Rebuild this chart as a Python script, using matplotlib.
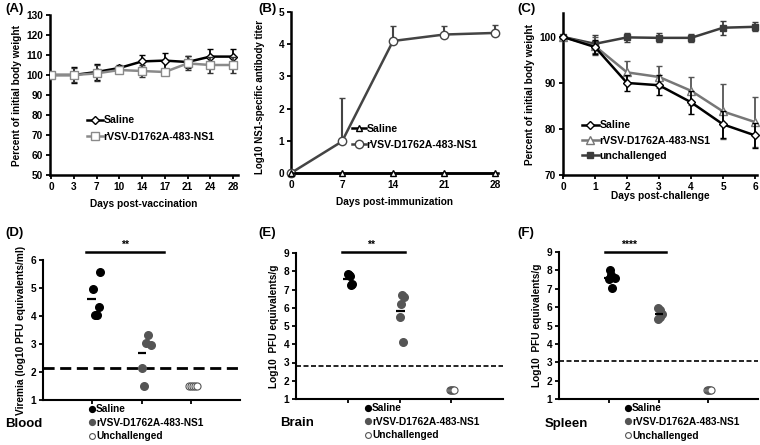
import matplotlib
matplotlib.use('Agg')
import matplotlib.pyplot as plt
from matplotlib.lines import Line2D

plt.rcParams['font.family'] = ['Liberation Sans', 'DejaVu Sans']
plt.rcParams['font.weight'] = 'bold'
plt.rcParams['axes.labelweight'] = 'bold'

W, H = 760, 445
fig = plt.figure(figsize=(7.6, 4.45), dpi=100)

def ax_px(l, r, t, b):
    return fig.add_axes([l / W, 1 - b / H, (r - l) / W, (b - t) / H])

# ---------------- data ----------------
# Panel A
a_days = ['0', '3', '7', '10', '14', '17', '21', '24', '28']
a_saline = [100, 100, 101.5, 103.5, 106.8, 107.2, 106.5, 109.2, 109.2]
a_saline_err = [0, 4, 4, 1.5, 3, 4, 3, 4, 4]
a_rvsv = [100, 100, 100.8, 102.5, 102, 101.5, 105.8, 105, 105]
a_rvsv_err = [0, 3.5, 4, 1.5, 3, 1.5, 3.5, 4, 4]

# Panel B
b_days = [0, 7, 14, 21, 28]
b_saline = [0, 0, 0, 0, 0]
b_rvsv = [0, 0.98, 4.1, 4.3, 4.35]
b_rvsv_err = [0, 1.35, 0.48, 0.25, 0.25]

# Panel C
c_days = [0, 1, 2, 3, 4, 5, 6]
c_saline = [100, 97.8, 90, 89.5, 85.8, 81, 78.6]
c_saline_err = [0, 1.5, 1.7, 2.2, 2.5, 3.0, 2.7]
c_rvsv = [100, 98, 92.3, 91.3, 88.3, 83.8, 81.5]
c_rvsv_err = [0, 2.0, 2.4, 2.3, 3.0, 6.0, 5.5]
c_unch = [100, 98.5, 99.9, 99.8, 99.8, 102, 102.2]
c_unch_err = [0, 2.0, 1.0, 1.0, 0.8, 1.5, 1.0]

# Panel D (blood)
d_sal_x = [1.16, 1.01, 1.13, 1.06, 1.09]
d_sal_y = [5.58, 4.97, 4.32, 4.05, 4.03]
d_rv_x = [2.14, 2.09, 2.19, 2.01, 2.05]
d_rv_y = [3.33, 3.03, 2.98, 2.15, 1.5]
d_un_x = [2.97, 3.01, 3.05, 3.09, 3.13]
d_un_y = [1.5, 1.5, 1.5, 1.5, 1.5]
d_means = [4.6, 2.68]
d_limit = 2.15

# Panel E (brain)
e_sal_x = [1.01, 1.03, 1.05, 1.08, 1.06]
e_sal_y = [7.85, 7.8, 7.75, 7.3, 7.25]
e_rv_x = [2.04, 2.09, 2.02, 2.01, 2.06]
e_rv_y = [6.7, 6.6, 6.2, 5.5, 4.15]
e_un_x = [2.97, 2.99, 3.01, 3.03, 3.05]
e_un_y = [1.5, 1.5, 1.5, 1.5, 1.5]
e_means = [7.6, 5.82]
e_limit = 2.8

# Panel F (spleen)
f_sal_x = [1.02, 1.05, 1.13, 1.0, 1.07]
f_sal_y = [8.0, 7.75, 7.6, 7.55, 7.05]
f_rv_x = [1.99, 2.03, 2.08, 2.03, 1.99]
f_rv_y = [5.95, 5.85, 5.6, 5.45, 5.35]
f_un_x = [2.97, 2.99, 3.01, 3.03, 3.05]
f_un_y = [1.5, 1.5, 1.5, 1.5, 1.5]
f_means = [7.6, 5.62]
f_limit = 3.05

legend_labels = ['Saline', 'rVSV-D1762A-483-NS1', 'Unchallenged']

FS = 7.3
LFS = 7.6

def style(ax, lw=1.8):
    for s in ['top', 'right']:
        ax.spines[s].set_visible(False)
    for s in ['left', 'bottom']:
        ax.spines[s].set_linewidth(lw)
    ax.tick_params(direction='out', length=3, width=1.3, labelsize=FS, pad=2)
    for lab in ax.get_xticklabels() + ax.get_yticklabels():
        lab.set_fontweight('bold')

def lh(color, marker, ms, mfc):
    return Line2D([], [], color=color, lw=1.8, marker=marker, ms=ms, mfc=mfc,
                  mec=color, mew=1)

# ---------------- Panel A ----------------
axA = ax_px(50, 238, 15, 175)
xa = list(range(len(a_days)))
axA.errorbar(xa, a_saline, yerr=a_saline_err, color='black', lw=1.8, marker='D',
             ms=4, mfc='white', mec='black', mew=1, capsize=2, elinewidth=1.3,
             zorder=3)
axA.errorbar(xa, a_rvsv, yerr=a_rvsv_err, color='#8a8a8a', lw=1.8, marker='s',
             ms=6, mfc='white', mec='#8a8a8a', mew=1, ecolor='#333333', capsize=2,
             elinewidth=1.3, zorder=4)
axA.set_xlim(-0.05, 8.22)
axA.set_ylim(50, 130)
axA.set_yticks(range(50, 131, 10))
axA.set_xticks(xa)
axA.set_xticklabels(a_days)
axA.set_xlabel('Days post-vaccination', fontsize=FS, labelpad=5)
axA.set_ylabel('Percent of initial body weight', fontsize=FS, labelpad=3)
style(axA)
axA.legend([lh('black', 'D', 4, 'white'), lh('#8a8a8a', 's', 6, 'white')],
           ['Saline', 'rVSV-D1762A-483-NS1'],
           loc='upper left', bbox_to_anchor=(0.17, 0.405), frameon=False,
           handlelength=1.5, handletextpad=0.05, labelspacing=0.6,
           borderpad=0, prop={'weight': 'bold', 'size': LFS})
fig.text(5 / W, 1 - 9 / H, '(A)', fontsize=9.5, fontweight='bold', va='center')

# ---------------- Panel B ----------------
axB = ax_px(291, 498, 12, 173)
axB.plot(b_days, b_saline, color='black', lw=1.8, marker='^', ms=5,
         mfc='white', mec='black', mew=1, zorder=4, clip_on=False)
axB.errorbar(b_days, b_rvsv, yerr=[[0] * len(b_days), b_rvsv_err], color='#444444',
             lw=1.8, marker='o', ms=6, mfc='white', mec='#444444', mew=1,
             capsize=2, elinewidth=1.5, zorder=3, clip_on=False)
axB.set_xlim(0, 28.4)
axB.set_ylim(0, 5)
axB.set_xticks(b_days)
axB.set_yticks(range(0, 6))
axB.set_xlabel('Days post-immunization', fontsize=FS, labelpad=5)
axB.set_ylabel('Log10 NS1-specific antibody titer', fontsize=7, labelpad=3)
axB.yaxis.set_label_coords(-0.125, 0.47)
style(axB)
axB.legend([lh('black', '^', 5, 'white'), lh('#444444', 'o', 6, 'white')],
           ['Saline', 'rVSV-D1762A-483-NS1'],
           loc='upper left', bbox_to_anchor=(0.27, 0.34), frameon=False,
           handlelength=1.3, handletextpad=0.05, labelspacing=0.6, borderpad=0,
           prop={'weight': 'bold', 'size': LFS})
fig.text(258 / W, 1 - 9 / H, '(B)', fontsize=9.5, fontweight='bold', va='center')

# ---------------- Panel C ----------------
axC = ax_px(563, 757, 13, 175)
axC.errorbar(c_days, c_unch, yerr=c_unch_err, color='#3c3c3c', lw=1.8, marker='s',
             ms=4, mfc='#3c3c3c', mec='#3c3c3c', capsize=2, elinewidth=1.3,
             zorder=3, clip_on=False)
axC.errorbar(c_days, c_rvsv, yerr=c_rvsv_err, color='#777777', lw=1.8, marker='^',
             ms=5.5, mfc='white', mec='#777777', mew=1, ecolor='#555555', capsize=2,
             elinewidth=1.3, zorder=4, clip_on=False)
axC.errorbar(c_days, c_saline, yerr=c_saline_err, color='black', lw=1.8, marker='D',
             ms=4, mfc='white', mec='black', mew=1, capsize=2, elinewidth=1.3,
             zorder=5, clip_on=False)
axC.set_xlim(0, 6.06)
axC.set_ylim(70, 105.2)
axC.set_yticks([70, 80, 90, 100])
axC.set_xticks(c_days)
axC.set_xlabel('Days post-challenge', fontsize=FS, labelpad=-1)
axC.set_ylabel('Percent of initial body weight', fontsize=FS, labelpad=3)
style(axC)
axC.legend([lh('black', 'D', 4, 'white'), lh('#777777', '^', 5.5, 'white'),
            lh('#3c3c3c', 's', 4, '#3c3c3c')],
           ['Saline', 'rVSV-D1762A-483-NS1', 'unchallenged'], loc='upper left',
           bbox_to_anchor=(0.07, 0.37), frameon=False, handlelength=1.6,
           handletextpad=0.05, labelspacing=0.5, borderpad=0,
           prop={'weight': 'bold', 'size': LFS})
fig.text(517 / W, 1 - 9 / H, '(C)', fontsize=9.5, fontweight='bold', va='center')

# ---------------- Dot plots ----------------
def dotplot(ax, sx, sy, rx, ry, ux, uy, means, limit, ylim, bar_y, bar_x, stars,
            star_x, dash_lw, dashes, ylabel, organ, organ_px, leg_anchor, label,
            label_px):
    ax.scatter(sx, sy, s=30, color='black', zorder=3)
    ax.scatter(rx, ry, s=30, color='#555555', zorder=3)
    ax.scatter(ux, uy, s=26, facecolor='white', edgecolor='#555555', lw=0.8,
               zorder=3)
    ax.hlines(means[0], 0.9, 1.08, color='black', lw=1.6, zorder=4)
    ax.hlines(means[1], 1.93, 2.1, color='black', lw=1.6, zorder=4)
    ax.axhline(limit, color='black', lw=dash_lw, dashes=dashes, zorder=2)
    ax.plot(bar_x, [bar_y, bar_y], color='black', lw=1.8, clip_on=False)
    ax.text(star_x, bar_y + 0.06 * (ylim[1] - ylim[0]) / 5, stars, ha='center',
            va='bottom', fontsize=7.5, fontweight='bold')
    ax.set_xlim(0, 4)
    ax.set_ylim(*ylim)
    ax.set_yticks(range(ylim[0], ylim[1] + 1))
    ax.set_xticks([1, 2, 3])
    ax.set_xticklabels([])
    ax.set_ylabel(ylabel, fontsize=FS, labelpad=3)
    style(ax, lw=1.5)
    handles = [Line2D([], [], ls='none', marker='o', ms=4.2, color='black'),
               Line2D([], [], ls='none', marker='o', ms=4.2, color='#555555'),
               Line2D([], [], ls='none', marker='o', ms=4.2, mfc='white',
                      mec='#555555', mew=0.8)]
    ax.legend(handles, legend_labels, loc='upper left', bbox_to_anchor=leg_anchor,
              frameon=False, handlelength=0.5, handletextpad=0.2,
              labelspacing=0.35, borderpad=0, borderaxespad=0,
              prop={'weight': 'bold', 'size': FS})
    fig.text(organ_px[0] / W, 1 - organ_px[1] / H, organ, fontsize=9.5,
             fontweight='bold', va='center')
    fig.text(label_px[0] / W, 1 - label_px[1] / H, label, fontsize=9.5,
             fontweight='bold', va='center')

axD = ax_px(43, 240, 260, 400)
dotplot(axD, d_sal_x, d_sal_y, d_rv_x, d_rv_y, d_un_x, d_un_y, d_means, d_limit,
        (1, 6), 6.3, [0.88, 2.45], '**', 1.67, 2.0, (4, 2),
        'Viremia (log10 PFU equivalents/ml)', 'Blood', (5, 424),
        ((89 - 43) / 197, -0.03), '(D)', (5, 233))

axE = ax_px(296, 503, 253, 399)
dotplot(axE, e_sal_x, e_sal_y, e_rv_x, e_rv_y, e_un_x, e_un_y, e_means, e_limit,
        (1, 9), 9.05, [0.89, 2.1], '**', 1.45, 1.2, (3, 1.5),
        'Log10  PFU equivalents/g', 'Brain', (280, 423),
        ((365 - 296) / 207, -0.03), '(E)', (258, 233))

axF = ax_px(559, 758, 252, 399)
dotplot(axF, f_sal_x, f_sal_y, f_rv_x, f_rv_y, f_un_x, f_un_y, f_means, f_limit,
        (1, 9), 9.0, [0.92, 2.15], '****', 1.4, 1.2, (3, 1.5),
        'Log10  PFU equivalents/g', 'Spleen', (545, 424),
        ((625 - 559) / 199, -0.03), '(F)', (517, 233))

fig.savefig('out.png', dpi=100)
